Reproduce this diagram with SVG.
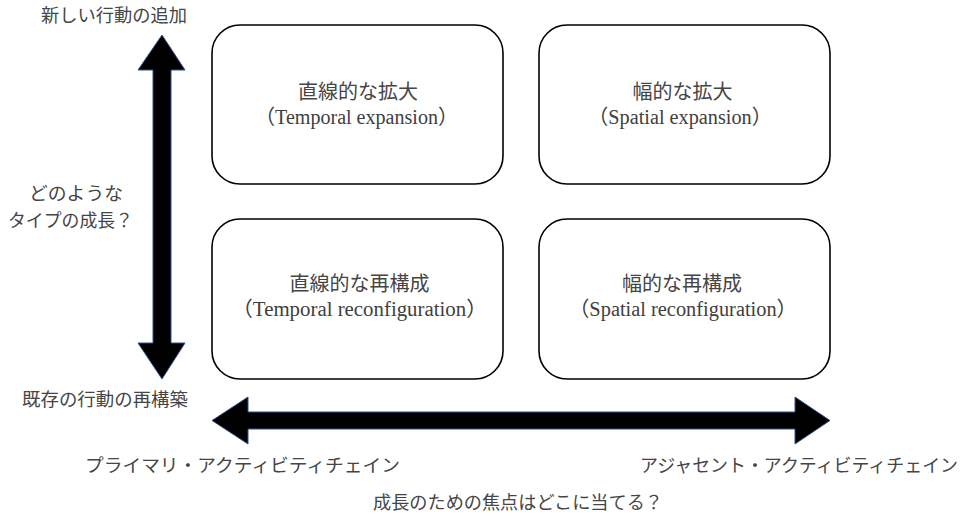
<svg xmlns="http://www.w3.org/2000/svg" width="975" height="516" viewBox="0 0 975 516">
<style>
.bg{fill:#ffffff}
.box{fill:#ffffff;stroke:#000000;stroke-width:1.6}
.arrow{fill:#000000;stroke:#2f528f;stroke-width:1}
.lbl{font-family:"Liberation Serif","Noto Sans CJK JP",serif;font-size:18px;fill:#454545}
.t1{font-family:"Liberation Serif","Noto Sans CJK JP",serif;font-size:20px;fill:#454545;text-anchor:middle}
.t2{font-family:"Liberation Serif","Noto Sans CJK JP",serif;font-size:20.5px;fill:#404040;text-anchor:middle}
</style>
<rect class="bg" x="0" y="0" width="975" height="516"/>
<g id="connectors">
  <polygon id="axis-vertical" class="arrow" points="162,35 185,70 171,70 171,343 185,343 162,379 138,343 153,343 153,70 138,70"/>
  <polygon id="axis-horizontal" class="arrow" points="212,420.5 248,397 248,412 795,412 795,397 830,420.5 795,444 795,429 248,429 248,444"/>
</g>
<g id="node-temporal-expansion">
  <rect class="box" x="212" y="25" width="291" height="159" rx="28" ry="28"/>
  <text class="t1" x="358" y="99">直線的な拡大</text>
  <text class="t2" x="356.5" y="124" textLength="203" lengthAdjust="spacingAndGlyphs">（Temporal expansion）</text>
</g>
<g id="node-spatial-expansion">
  <rect class="box" x="539" y="25" width="291" height="159" rx="28" ry="28"/>
  <text class="t1" x="682.5" y="99">幅的な拡大</text>
  <text class="t2" x="680" y="124" textLength="184" lengthAdjust="spacingAndGlyphs">（Spatial expansion）</text>
</g>
<g id="node-temporal-reconfiguration">
  <rect class="box" x="212" y="219" width="291" height="160" rx="28" ry="28"/>
  <text class="t1" x="359.5" y="291">直線的な再構成</text>
  <text class="t2" x="359.5" y="316" textLength="255" lengthAdjust="spacingAndGlyphs">（Temporal reconfiguration）</text>
</g>
<g id="node-spatial-reconfiguration">
  <rect class="box" x="539" y="219" width="291" height="160" rx="28" ry="28"/>
  <text class="t1" x="682" y="291">幅的な再構成</text>
  <text class="t2" x="683" y="316" textLength="228" lengthAdjust="spacingAndGlyphs">（Spatial reconfiguration）</text>
</g>
<g id="labels">
  <text class="lbl" x="41" y="22" textLength="146" lengthAdjust="spacingAndGlyphs">新しい行動の追加</text>
  <text class="lbl" x="29" y="199.5" textLength="94" lengthAdjust="spacingAndGlyphs">どのような</text>
  <text class="lbl" x="8" y="226.5" textLength="125" lengthAdjust="spacingAndGlyphs">タイプの成長？</text>
  <text class="lbl" x="22" y="406" textLength="166" lengthAdjust="spacingAndGlyphs">既存の行動の再構築</text>
  <text class="lbl" x="85" y="471.5" textLength="315" lengthAdjust="spacingAndGlyphs">プライマリ・アクティビティチェイン</text>
  <text class="lbl" x="640" y="472" textLength="318" lengthAdjust="spacingAndGlyphs">アジャセント・アクティビティチェイン</text>
  <text class="lbl" x="373" y="508.5" textLength="290" lengthAdjust="spacingAndGlyphs">成長のための焦点はどこに当てる？</text>
</g>
</svg>
